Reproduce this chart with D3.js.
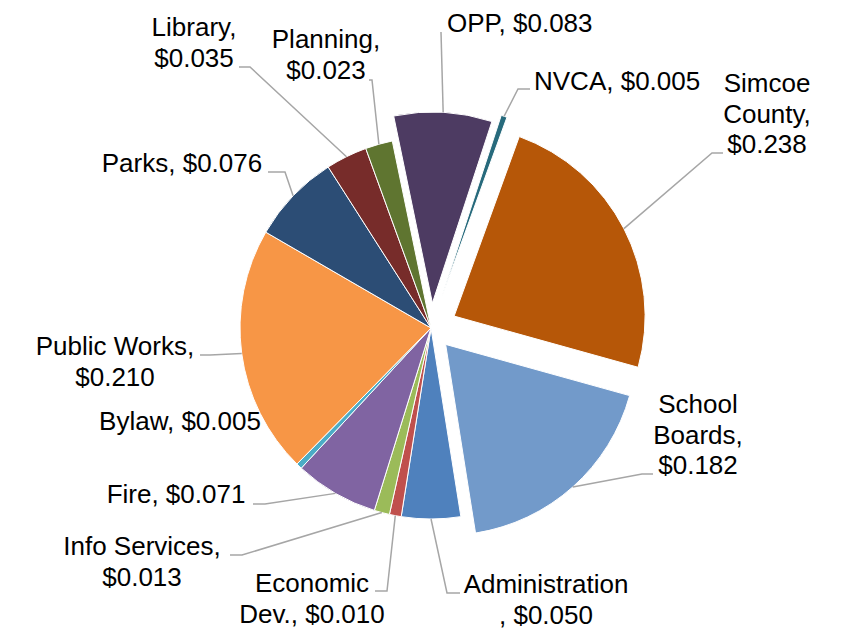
<!DOCTYPE html>
<html lang="en">
<head>
    <meta charset="UTF-8">
    <title>Tax Dollar Breakdown</title>
    <script src="https://d3js.org/d3.v7.min.js"></script>
    <style>
        body { margin: 0; background: #fff; }
        text { font-family: "Liberation Sans", Arial, sans-serif; font-size: 26px; fill: #000; }
    </style>
</head>
<body>
    <svg width="847" height="630"></svg>
    <script>
        // Chart data (clockwise order, first slice = Administration)
        const categories = ["Administration", "Economic Dev.", "Info Services", "Fire", "Bylaw",
                            "Public Works", "Parks", "Library", "Planning", "OPP", "NVCA",
                            "Simcoe County", "School Boards"];
        const values = [0.050, 0.010, 0.013, 0.071, 0.005, 0.210, 0.076, 0.035, 0.023, 0.083, 0.005, 0.238, 0.182];
        const colors = ["#4F81BD", "#C0504D", "#9BBB59", "#8064A2", "#4BACC6", "#F79646", "#2C4D75",
                        "#772C2A", "#5F7530", "#4D3B62", "#276A7C", "#B65708", "#729ACA"];

        // exploded slices (px)
        const explode = {"OPP": 25, "NVCA": 33, "Simcoe County": 26, "School Boards": 22};

        // label layout: text anchor, first baseline, wrap width, leader elbow/end
        const labelLayout = {
            "Administration": {x: 546, y: 593, anchor: "middle", wrap: 168, pts: [[447, 593], [460, 593]]},
            "Economic Dev.":  {x: 312, y: 592, anchor: "middle", wrap: 155, pts: [[387, 591], [375, 591]]},
            "Info Services":  {x: 142, y: 555, anchor: "middle", wrap: 165, pts: [[242, 555], [230, 555]]},
            "Fire":           {x: 176, y: 503, anchor: "middle", wrap: 300, pts: [[265, 504], [253, 504]]},
            "Bylaw":          {x: 180, y: 430, anchor: "middle", wrap: 300, pts: []},
            "Public Works":   {x: 115, y: 355, anchor: "middle", wrap: 170, pts: [[210, 355], [200, 355]]},
            "Parks":          {x: 182, y: 172, anchor: "middle", wrap: 300, pts: [[285, 172], [268, 172]]},
            "Library":        {x: 194, y: 36,  anchor: "middle", wrap: 95,  pts: [[250, 67], [239, 67]]},
            "Planning":       {x: 326, y: 48,  anchor: "middle", wrap: 110, pts: [[372, 80], [369, 80]]},
            "OPP":            {x: 447, y: 32,  anchor: "start",  wrap: 300, pts: [[441, 32]]},
            "NVCA":           {x: 534, y: 90,  anchor: "start",  wrap: 300, pts: [[518, 89], [530, 89]]},
            "Simcoe County":  {x: 767, y: 92,  anchor: "middle", wrap: 95,  pts: [[712, 153], [723, 153]]},
            "School Boards":  {x: 698, y: 413, anchor: "middle", wrap: 95,  pts: [[642, 474], [653, 474]]}
        };

        const data = categories.map((c, i) => ({name: c, value: values[i], color: colors[i]}));

        const svg = d3.select("svg");
        const cx = 431, cy = 328, radius = 191;
        const start = 171 * Math.PI / 180;

        const pie = d3.pie().sort(null).value(d => d.value)
                      .startAngle(start).endAngle(start + 2 * Math.PI);
        const arc = d3.arc().innerRadius(0).outerRadius(radius);
        const edgeArc = d3.arc().innerRadius(radius).outerRadius(radius);

        const arcs = pie(data);

        function shift(d) {
            const off = explode[d.data.name] || 0;
            const a = (d.startAngle + d.endAngle) / 2;
            return [off * Math.sin(a), -off * Math.cos(a)];
        }

        const g = svg.append("g").attr("transform", `translate(${cx},${cy})`);

        g.selectAll(".slice")
         .data(arcs)
         .enter().append("path")
         .attr("class", "slice")
         .attr("d", arc)
         .attr("transform", d => `translate(${shift(d)})`)
         .attr("fill", d => d.data.color)
         .attr("stroke", "#fff")
         .attr("stroke-width", 1);

        // leader lines
        svg.selectAll(".leader")
           .data(arcs.filter(d => labelLayout[d.data.name].pts.length))
           .enter().append("path")
           .attr("class", "leader")
           .attr("d", d => {
               const c = edgeArc.centroid(d), s = shift(d);
               const p0 = [cx + c[0] + s[0], cy + c[1] + s[1]];
               return d3.line()([p0, ...labelLayout[d.data.name].pts]);
           })
           .attr("fill", "none")
           .attr("stroke", "#A6A6A6")
           .attr("stroke-width", 1.5);

        // word wrap with char fallback when a word is too wide
        function wrapText(str, maxW, measure) {
            const lines = [];
            let cur = "";
            for (const ch of str) {
                const next = cur + ch;
                if (measure(next.trim()) > maxW && cur.trim().length) {
                    // break at last space if possible
                    const sp = cur.lastIndexOf(" ");
                    if (ch !== " " && sp > 0) {
                        lines.push(cur.slice(0, sp));
                        cur = cur.slice(sp + 1) + ch;
                    } else {
                        lines.push(cur.trim());
                        cur = ch === " " ? "" : ch;
                    }
                } else {
                    cur = next;
                }
            }
            if (cur.trim().length) lines.push(cur.trim());
            return lines;
        }

        const probe = svg.append("text").attr("visibility", "hidden");
        const measure = s => probe.text(s).node().getComputedTextLength();

        arcs.forEach(d => {
            const lay = labelLayout[d.data.name];
            const full = `${d.data.name}, $${d.data.value.toFixed(3)}`;
            const lines = wrapText(full, lay.wrap, measure);
            const t = svg.append("text")
                         .attr("x", lay.x)
                         .attr("y", lay.y)
                         .attr("text-anchor", lay.anchor);
            lines.forEach((l, i) => {
                t.append("tspan")
                 .attr("x", lay.x)
                 .attr("dy", i === 0 ? 0 : 30.5)
                 .text(l);
            });
        });
        probe.remove();
    </script>
</body>
</html>
